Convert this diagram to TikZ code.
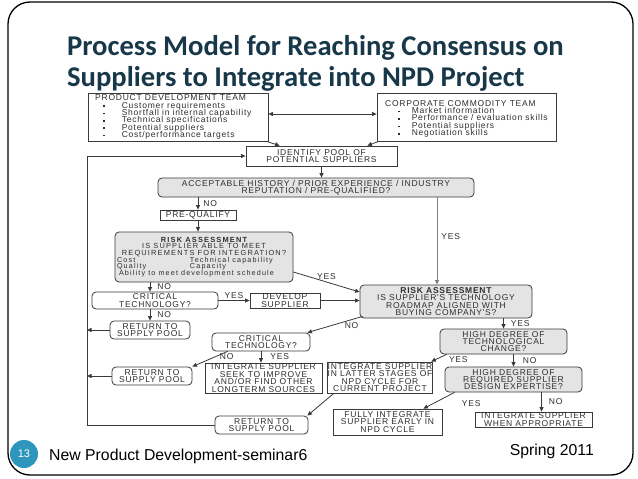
\documentclass[tikz,border=0pt]{standalone}
\usepackage{fontspec}
\usetikzlibrary{arrows.meta,calc}
\setmainfont{Liberation Sans}
\newfontfamily\dg[LetterSpace=9]{Liberation Sans}
\newfontfamily\dgw[LetterSpace=16]{Liberation Sans}
\newfontfamily\ttlfont{Carlito}
\definecolor{lnc}{HTML}{3A3A3A}
\definecolor{txc}{HTML}{2E2E2E}
\definecolor{gfc}{HTML}{E4E4E4}
\definecolor{ttlc}{HTML}{18384A}
\definecolor{circc}{HTML}{2E95BD}
\newcommand\dgs{\dg\fontsize{8.5}{7.4}\selectfont\lineskiplimit=-10pt\lineskip=0pt}
\newcommand\dgr{\dgw\fontsize{7.4}{6.6}\selectfont\lineskiplimit=-10pt\lineskip=0pt}
\newcommand\dgrl{\fontsize{7.2}{6.6}\selectfont}
\newcommand\bul{\hspace*{8pt}\rule[1.2pt]{1.6pt}{1.6pt}\hspace*{17pt}}
\newcommand\bulb{\hspace*{13pt}\rule[1.2pt]{1.6pt}{1.6pt}\hspace*{12pt}}
\begin{document}
\begin{tikzpicture}[x=1pt,y=-1pt,
  box/.style={draw=lnc, line width=0.8, fill=white, inner sep=0.5, align=center, font=\dgs, text=txc},
  rbox/.style={box, rounded corners=4},
  gbox/.style={rbox, fill=gfc},
  arr/.style={draw=lnc, line width=0.8, -{Triangle[length=4.5pt,width=4pt]}},
  darr/.style={draw=lnc, line width=0.8, {Triangle[length=4.5pt,width=4pt]}-{Triangle[length=4.5pt,width=4pt]}},
  lbl/.style={font=\dgs, text=txc, inner sep=1},
  sz/.style 2 args={minimum width=#1, minimum height=#2}
]
\useasboundingbox (0,0) rectangle (638,479);
\fill[white] (0,0) rectangle (638,479);
% slide frame
\draw[line width=1.3, rounded corners=22] (8,2) rectangle (633,475);

% title
\node[anchor=base west, font=\ttlfont\bfseries\fontsize{28.6}{30}\selectfont, text=ttlc, inner sep=0] (t1) at (67,55) {Process Model for Reaching Consensus on};
\node[anchor=base west, font=\ttlfont\bfseries\fontsize{28.6}{30}\selectfont, text=ttlc, inner sep=0] (t2) at (67,86) {Suppliers to Integrate into NPD Project};

% team boxes
\node[box, sz={180}{48}] (pdt) at (178,117) {};
\node[anchor=north west, align=left, inner sep=0, font=\dgs, text=txc] (pdtt) at (95,94.5)
 {PRODUCT DEVELOPMENT TEAM\\
  \bul Customer requirements\\
  \bul Shortfall in internal capability\\
  \bul Technical specifications\\
  \bul Potential suppliers\\
  \bul Cost/performance targets};
\node[box, sz={179}{48}] (cct) at (466.5,117) {};
\node[anchor=north west, align=left, inner sep=0, font=\dgs, text=txc] (cctt) at (385,100)
 {CORPORATE COMMODITY TEAM\\
  \bulb Market information\\
  \bulb Performance / evaluation skills\\
  \bulb Potential suppliers\\
  \bulb Negotiation skills};

\node[box, sz={151}{20}] (pool) at (321.5,156) {IDENTIFY POOL OF\\POTENTIAL SUPPLIERS};
\node[gbox, sz={316}{19}] (hist) at (316,187.5) {ACCEPTABLE HISTORY / PRIOR EXPERIENCE / INDUSTRY\\REPUTATION / PRE-QUALIFIED?};
\node[box, sz={76}{10}] (preq) at (198,215) {PRE-QUALIFY};
\node[gbox, sz={178}{50}, font=\dgr] (ra1) at (204,257)
 {{\bfseries RISK ASSESSMENT}\\
  IS SUPPLIER ABLE TO MEET\\
  REQUIREMENTS FOR INTEGRATION?\\
  \makebox[174pt][l]{\dgrl\makebox[73pt][l]{Cost}Technical capability}\\
  \makebox[174pt][l]{\dgrl\makebox[73pt][l]{Quality}Capacity}\\
  \makebox[174pt][l]{\dgrl\hspace*{2pt}Ability to meet development schedule}};
\node[gbox, sz={172}{33}] (ra2) at (446,301.5)
 {{\bfseries RISK ASSESSMENT}\\IS SUPPLIER'S TECHNOLOGY\\ROADMAP ALIGNED WITH\\BUYING COMPANY'S?};
\node[rbox, sz={126}{17}] (ct1) at (155,300.5) {CRITICAL\\TECHNOLOGY?};
\node[box, sz={70}{15}] (dev) at (285,300.5) {DEVELOP\\SUPPLIER};
\node[rbox, sz={80}{18}] (ret1) at (150,330) {RETURN TO\\SUPPLY POOL};
\node[rbox, sz={98}{18}] (ct2) at (261,342) {CRITICAL\\TECHNOLOGY?};
\node[rbox, sz={80}{18}] (ret2) at (152,376) {RETURN TO\\SUPPLY POOL};
\node[box, sz={117}{30}] (seek) at (263.5,378) {INTEGRATE SUPPLIER\\SEEK TO IMPROVE\\AND/OR FIND OTHER\\LONGTERM SOURCES};
\node[gbox, sz={127}{25}] (hdtc) at (503.5,341.5) {HIGH DEGREE OF\\TECHNOLOGICAL\\CHANGE?};
\node[box, sz={104}{31}] (latter) at (380,377.5) {INTEGRATE SUPPLIER\\IN LATTER STAGES OF\\NPD CYCLE FOR\\CURRENT PROJECT};
\node[gbox, sz={137}{25}] (hdrs) at (513.5,379.5) {HIGH DEGREE OF\\REQUIRED SUPPLIER\\DESIGN EXPERTISE?};
\node[rbox, sz={93}{18}] (ret3) at (261.5,425) {RETURN TO\\SUPPLY POOL};
\node[box, sz={109}{26}] (full) at (387.5,422) {FULLY INTEGRATE\\SUPPLIER EARLY IN\\NPD CYCLE};
\node[box, sz={117}{15}] (appr) at (533.5,419.5) {INTEGRATE SUPPLIER\\WHEN APPROPRIATE};

% connectors
\draw[darr] ([yshift=3]pdt.east) -- ([yshift=3]pdt.east -| cct.west);
\draw[arr] ([xshift=-2]pdt.south east) -- ([xshift=34]pool.north west);
\draw[arr] ([xshift=2]cct.south west) -- ([xshift=-30]pool.north east);
\draw[arr] (pool.south) -- (pool.south |- hist.north);
\draw[arr] (preq.north |- hist.south) -- (preq.north) node[lbl, midway, right=4pt] {NO};
\draw[arr] (preq.south) -- (preq.south |- ra1.north);
\coordinate (ra2in) at ([xshift=-9]ra2.north);
\draw[arr, draw=gray] (hist.south -| ra2in) -- (ra2in) node[lbl, pos=0.45, right=3pt] {YES};
\draw[arr] ([yshift=-15]ra1.east) -- ([yshift=9.5]ra2.west) node[lbl, midway, above=1pt] {YES};
\coordinate (ct1in) at ([xshift=-5]ct1.north);
\draw[arr] (ra1.south -| ct1in) -- (ct1in) node[lbl, midway, right=6pt] {NO};
\draw[arr] (ct1.east) -- (dev.west) node[lbl, midway, above=1pt] {YES};
\draw[arr] (dev.east) -- (dev.east -| ra2.west);
\draw[arr] (ret1.north |- ct1.south) -- (ret1.north) node[lbl, midway, right=6pt] {NO};
\draw[arr] ([xshift=3,yshift=2]ra2.south west) -- ([xshift=-3]ct2.north east) node[lbl, pos=0.2, below=2pt] {NO};
\draw[arr] ([xshift=16]ct2.south west) -- (ret2.north east) node[lbl, pos=0.3, anchor=west, xshift=1.5pt, yshift=-1pt] {NO};
\draw[arr] (ct2.south) -- (ct2.south |- seek.north) node[lbl, midway, right=8pt] {YES};
\draw[arr] (hdtc.north |- ra2.south) -- (hdtc.north) node[lbl, midway, right=6pt] {YES};
\draw[arr] ([xshift=7]hdtc.south west) -- ([xshift=-2]latter.north east) node[lbl, pos=0, anchor=north west, xshift=1pt, yshift=-1pt] {YES};
\draw[arr] (hdrs.north |- hdtc.south) -- (hdrs.north) node[lbl, midway, right=8pt] {NO};
\draw[arr] ([xshift=7]latter.south west) -- ([xshift=-1]ret3.north east);
\draw[arr] ([xshift=10]hdrs.south west) -- ([xshift=-19]full.north east) node[lbl, pos=0.1, anchor=north west, xshift=9pt, yshift=-5pt] {YES};
\coordinate (apin) at ([xshift=8]appr.north);
\draw[arr] (hdrs.south -| apin) -- (apin) node[lbl, midway, right=6pt] {NO};
% return loop
\coordinate (loopL) at (87,156);
\draw[arr, line width=1] (ret3.west) -| (loopL) -- (pool.west);
\draw[arr] (ret1.west) -- (ret1.west -| loopL);
\draw[arr] (ret2.west) -- (ret2.west -| loopL);

% footer
\node[circle, fill=circc, minimum size=28, inner sep=0, text=white, font=\fontsize{11}{12}\selectfont] (num) at (24,454) {13};
\node[anchor=base west, font=\fontsize{15.8}{18}\selectfont, inner sep=0] (ft) at (49,460) {New Product Development-seminar6};
\node[anchor=base east, font=\fontsize{15.8}{18}\selectfont, inner sep=0] (sp) at (594,455) {Spring 2011};
\end{tikzpicture}
\end{document}
